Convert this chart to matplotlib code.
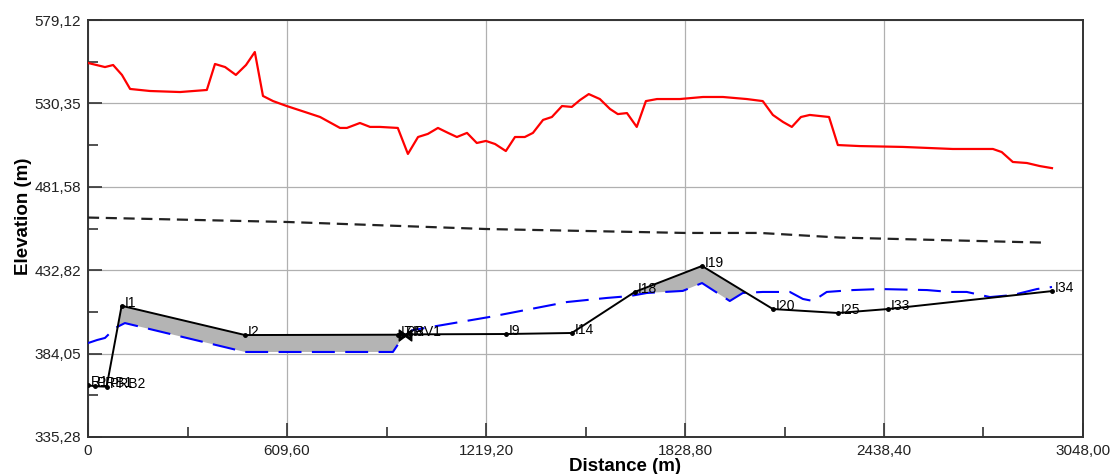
import numpy as np
import matplotlib
matplotlib.use("Agg")
import matplotlib.pyplot as plt
from matplotlib.ticker import FixedLocator, FuncFormatter

plt.rcParams['font.family'] = ['Liberation Sans', 'DejaVu Sans']

# ground elevation (red)
ground_x = [0, 52, 77, 104, 129, 190, 282, 364, 389, 420, 453, 484, 511, 536, 567, 609,
            665, 711, 772, 793, 833, 864, 894, 949, 980, 1011, 1041, 1072, 1103, 1130, 1161,
            1191, 1219, 1247, 1280, 1308, 1338, 1363, 1394, 1421, 1452, 1482, 1507, 1534,
            1568, 1599, 1623, 1651, 1681, 1709, 1743, 1813, 1884, 1945, 2018, 2067, 2098,
            2129, 2156, 2184, 2211, 2270, 2297, 2364, 2496, 2649, 2772, 2799, 2833, 2876,
            2916, 2953]
ground_z = [554.0, 551.6, 552.8, 547.0, 538.8, 537.6, 537.0, 538.2, 553.4, 551.6, 547.0,
            552.8, 560.4, 534.7, 531.7, 528.8, 525.3, 522.4, 516.0, 516.0, 518.9, 516.6,
            516.6, 516.0, 500.8, 510.7, 512.5, 516.0, 513.1, 510.7, 513.1, 507.2, 508.4,
            506.6, 502.5, 510.7, 510.7, 513.1, 520.7, 522.4, 528.8, 528.3, 532.3, 535.8,
            532.9, 527.1, 524.1, 524.7, 516.6, 531.7, 532.9, 532.9, 534.1, 534.1, 532.9,
            531.7, 523.6, 519.5, 516.6, 522.4, 523.6, 522.4, 506.0, 505.4, 504.9, 503.7,
            503.7, 501.9, 496.1, 495.5, 493.7, 492.5]

# static line (black dashed)
static_x = [0, 612, 1219, 1829, 2058, 2303, 2937]
static_z = [463.6, 461.0, 456.9, 454.6, 454.6, 451.9, 448.9]

# hydraulic grade (blue dashed)
hgl_x = [0, 28, 52, 83, 113, 481, 934, 965, 995, 1231, 1467, 1590, 1660, 1712, 1822,
         1881, 1966, 2006, 2067, 2150, 2190, 2221, 2263, 2343, 2426, 2570, 2640, 2692,
         2763, 2833, 2907, 2953]
hgl_z = [390.2, 392.0, 393.2, 399.0, 401.9, 385.0, 385.0, 393.8, 397.8, 405.5, 414.2,
         416.6, 417.7, 419.5, 420.7, 425.3, 414.8, 419.5, 420.1, 420.1, 416.0, 414.8,
         420.1, 421.2, 421.8, 421.2, 420.1, 420.1, 417.1, 418.3, 421.8, 423.0]

# pipe profile nodes (black)
node_names = ['R1', 'PRB1', 'PRB2', 'I1', 'I2', 'I7', 'PRV1', 'I8', 'I9', 'I14', 'I18',
              'I19', 'I20', 'I25', 'I33', 'I34']
node_x = [0, 20, 57, 103, 481, 950, 965, 985, 1280, 1482, 1675, 1881, 2098, 2297, 2450, 2953]
node_z = [365.5, 365.0, 364.7, 412.0, 394.9, 395.1, 395.2, 395.3, 395.5, 396.1, 420.1,
          435.3, 410.1, 407.8, 410.1, 420.6]

x_ticks = [0, 609.6, 1219.2, 1828.8, 2438.4, 3048.0]
y_ticks = [335.28, 384.048, 432.816, 481.584, 530.352, 579.12]


def fmt(v, pos=None):
    if abs(v) < 1e-9:
        return "0"
    return f"{v:.2f}".replace(".", ",")


fig = plt.figure(figsize=(11.13, 4.74), dpi=100)
ax = fig.add_axes([88 / 1113, 1 - 437 / 474, 995 / 1113, 417 / 474])

# shaded area where the pipe lies above the grade line
xx = np.union1d(node_x, hgl_x)
pipe_i = np.interp(xx, node_x, node_z)
hgl_i = np.interp(xx, hgl_x, hgl_z)
ax.fill_between(xx, pipe_i, hgl_i, where=pipe_i > hgl_i, interpolate=True,
                color='#b4b4b4', lw=0, zorder=2)

ax.plot(ground_x, ground_z, color='#ff0000', lw=1.6, zorder=4)
ax.plot(static_x, static_z, color='#222222', lw=1.6, dashes=(5, 3), zorder=4)
ax.plot(hgl_x, hgl_z, color='#0000ff', lw=1.5, dashes=(11, 5), zorder=3)
ax.plot(node_x, node_z, color='black', lw=1.4, marker='o', ms=2.5, zorder=5)
ax.plot([972], [395.2], marker=r'$\bowtie$', ms=9, color='black', lw=0, zorder=6)

for name, x, z in zip(node_names, node_x, node_z):
    ax.annotate(name, (x, z), xytext=(2, -3), textcoords='offset points',
                ha='left', va='bottom', fontsize=10, color='black', zorder=7)

ax.set_xlim(0, 3048)
ax.set_ylim(335.28, 579.12)
ax.xaxis.set_major_locator(FixedLocator(x_ticks))
ax.yaxis.set_major_locator(FixedLocator(y_ticks))
ax.xaxis.set_minor_locator(FixedLocator([304.8, 914.4, 1524.0, 2133.6, 2743.2]))
ax.yaxis.set_minor_locator(FixedLocator([359.664, 408.432, 457.2, 505.968, 554.736]))
ax.xaxis.set_major_formatter(FuncFormatter(fmt))
ax.yaxis.set_major_formatter(FuncFormatter(fmt))
ax.tick_params(which='major', direction='in', length=10, width=1.2, color='#333333',
               labelsize=11, labelcolor='#222222', pad=5)
ax.tick_params(which='minor', direction='in', length=7, width=1.2, color='#333333')
ax.grid(True, which='major', color='#b0b0b0', lw=0.9, zorder=0)
ax.set_axisbelow(True)
for s in ax.spines.values():
    s.set_color('#333333')
    s.set_linewidth(1.4)

ax.set_xlabel('Distance (m)', fontsize=13.5, fontweight='bold')
ax.set_ylabel('Elevation (m)', fontsize=13.5, fontweight='bold')
ax.xaxis.set_label_coords(0.54, -0.05)
ax.yaxis.set_label_coords(-0.056, 0.53)

fig.savefig('out.png', dpi=100)
